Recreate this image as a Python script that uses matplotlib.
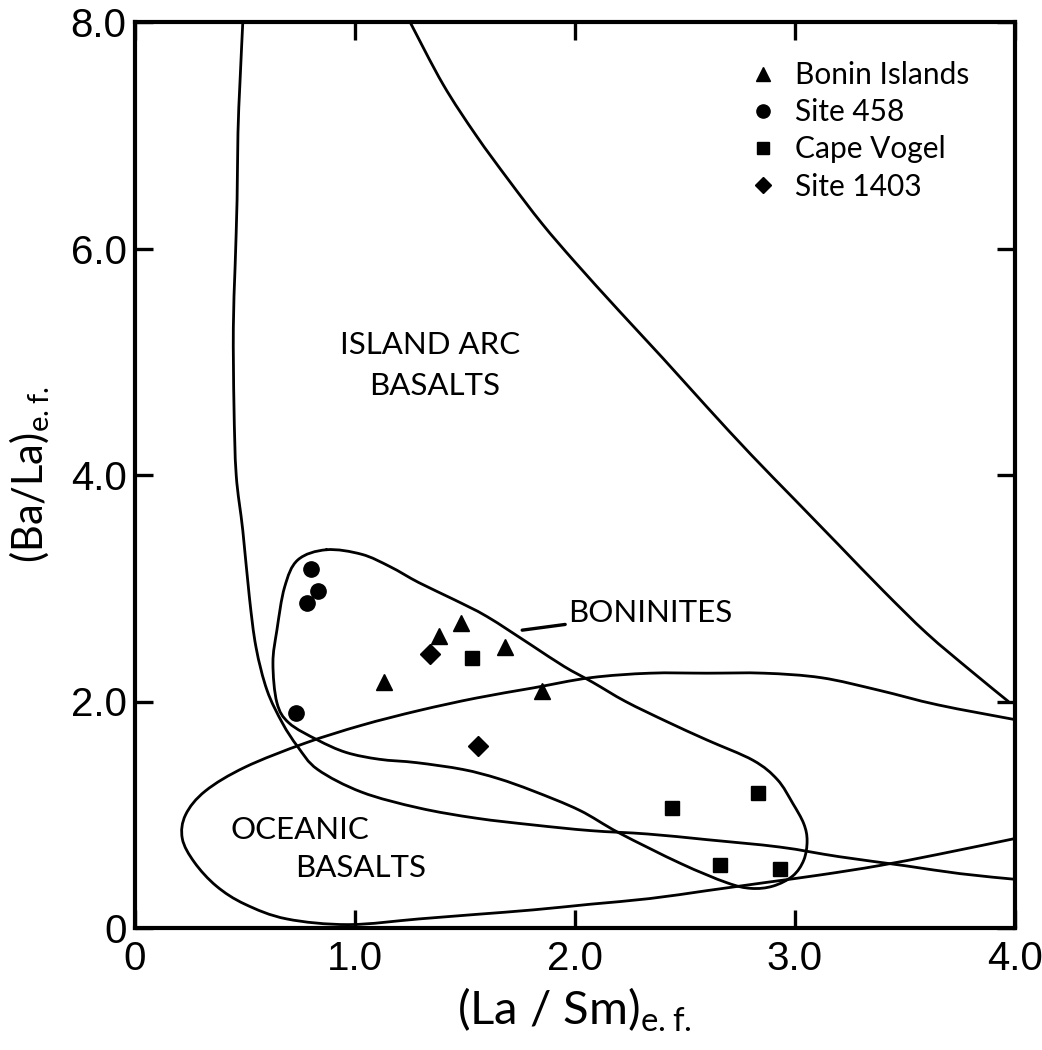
import numpy as np
import matplotlib.pyplot as plt
from matplotlib.lines import Line2D
from matplotlib.path import Path
from matplotlib.patches import PathPatch

# ..............................................................................
plt.rcParams['font.family'] = ['Lato', 'DejaVu Sans']
plt.rcParams['mathtext.fontset'] = 'custom'
plt.rcParams['mathtext.rm'] = 'Lato'

# ==============================================================================
# sample points (La/Sm e.f., Ba/La e.f.)
boninX = [1.13, 1.38, 1.48, 1.68, 1.85]
boninY = [2.17, 2.58, 2.69, 2.48, 2.09]
site458X = [0.80, 0.83, 0.78, 0.73]
site458Y = [3.17, 2.98, 2.87, 1.90]
vogelX = [1.53, 2.44, 2.83, 2.66, 2.93]
vogelY = [2.38, 1.06, 1.19, 0.56, 0.52]
site1403X = [1.34, 1.56]
site1403Y = [2.42, 1.61]

# field boundaries
arcUpperX = [1.25, 1.40, 1.55, 1.70, 1.85, 2.00, 2.20, 2.40, 2.60, 2.80, 3.00, 3.20, 3.40, 3.60, 3.80, 3.97]
arcUpperY = [8.00, 7.45, 7.00, 6.60, 6.22, 5.88, 5.45, 5.03, 4.60, 4.18, 3.78, 3.38, 2.98, 2.60, 2.27, 2.00]

arcLowerX = [0.49, 0.477, 0.468, 0.464, 0.455, 0.447, 0.45, 0.46, 0.49, 0.52, 0.55, 0.60, 0.67, 0.74, 0.83,
             1.03, 1.29, 1.55, 1.81, 2.07, 2.33, 2.60, 2.93, 3.20, 3.50, 3.75, 4.00]
arcLowerY = [8.00, 7.46, 7.02, 6.43, 5.84, 5.30, 4.60, 4.00, 3.51, 2.92, 2.48, 2.10, 1.81, 1.60, 1.40,
             1.20, 1.06, 0.97, 0.91, 0.86, 0.83, 0.78, 0.715, 0.63, 0.55, 0.48, 0.43]

oceanX = [4.00, 3.65, 3.38, 3.12, 2.86, 2.60, 2.34, 2.07, 1.81, 1.55, 1.29, 1.03, 0.77, 0.50, 0.32, 0.23,
          0.215, 0.27, 0.37, 0.50, 0.69, 0.97, 1.29, 1.55, 1.81, 2.07, 2.34, 2.60, 2.86, 3.12, 3.38, 3.65, 4.00]
oceanY = [1.84, 1.97, 2.10, 2.21, 2.25, 2.25, 2.25, 2.21, 2.12, 2.03, 1.92, 1.79, 1.63, 1.42, 1.21, 1.00,
          0.79, 0.58, 0.37, 0.21, 0.08, 0.03, 0.08, 0.12, 0.16, 0.21, 0.26, 0.33, 0.40, 0.47, 0.55, 0.65, 0.79]

boninitesX = [0.87, 1.03, 1.16, 1.29, 1.45, 1.60, 1.80, 1.95, 2.08, 2.23, 2.42, 2.60, 2.81, 2.92, 2.99, 3.04,
              3.055, 3.04, 2.99, 2.90, 2.80, 2.69, 2.48, 2.20, 2.02, 1.81, 1.65, 1.49, 1.28, 1.11, 0.96, 0.83,
              0.70, 0.645, 0.627, 0.645, 0.68, 0.74, 0.87]
boninitesY = [3.34, 3.30, 3.19, 3.05, 2.90, 2.75, 2.50, 2.31, 2.17, 2.00, 1.82, 1.66, 1.48, 1.31, 1.10, 0.92,
              0.77, 0.60, 0.46, 0.37, 0.35, 0.40, 0.57, 0.84, 1.04, 1.21, 1.32, 1.40, 1.46, 1.49, 1.55, 1.66,
              1.81, 1.99, 2.34, 2.63, 3.01, 3.25, 3.34]

xTicks = [0, 1, 2, 3, 4]
xTickLabels = ["0", "1.0", "2.0", "3.0", "4.0"]
yTicks = [0, 2, 4, 6, 8]
yTickLabels = ["0", "2.0", "4.0", "6.0", "8.0"]


# ==============================================================================
def smoothPath(xs, ys, closed=False):
    # catmull-rom through the traced points, drawn as cubic bezier segments
    pts = np.column_stack([xs, ys])
    n = len(pts)
    verts = [pts[0]]
    codes = [Path.MOVETO]
    for i in range(n - 1):
        p0 = pts[i - 1] if i > 0 else (pts[-2] if closed else pts[i])
        p1 = pts[i]
        p2 = pts[i + 1]
        p3 = pts[i + 2] if i + 2 < n else (pts[1] if closed else pts[i + 1])
        verts += [p1 + (p2 - p0) / 6.0, p2 - (p3 - p1) / 6.0, p2]
        codes += [Path.CURVE4] * 3
    return Path(verts, codes)


# ==============================================================================
fig = plt.figure(figsize=(10.42, 10.5), dpi=100)
ax = fig.add_axes([135/1042, 1-928/1050, 880/1042, 906/1050])

for xs, ys, cl in [(arcUpperX, arcUpperY, False), (arcLowerX, arcLowerY, False),
                   (oceanX, oceanY, False), (boninitesX, boninitesY, True)]:
    ax.add_patch(PathPatch(smoothPath(xs, ys, cl), facecolor="none", edgecolor="black",
                           lw=2.0, capstyle="round", joinstyle="round"))

ax.plot(boninX, boninY, ls="none", marker="^", ms=11, color="black", label="Bonin Islands")
ax.plot(site458X, site458Y, ls="none", marker="o", ms=11, color="black", label="Site 458")
ax.plot(vogelX, vogelY, ls="none", marker="s", ms=10, color="black", label="Cape Vogel")
ax.plot(site1403X, site1403Y, ls="none", marker="D", ms=10, color="black", label="Site 1403")

# ..............................................................................
handles = [Line2D([], [], ls="none", marker=m, ms=s, color="black") for m, s in
           [("^", 9.5), ("o", 9.5), ("s", 8.5), ("D", 8.5)]]
ax.legend(handles, ["Bonin Islands", "Site 458", "Cape Vogel", "Site 1403"],
          loc="upper left", bbox_to_anchor=(0.6966, 0.957), frameon=False, fontsize=21.5,
          handlelength=1.0, handletextpad=0.57, labelspacing=0.31, borderpad=0, borderaxespad=0)

# ..............................................................................
fs = 22.5
ax.text(1.34, 5.15, "ISLAND ARC", ha="center", va="center", fontsize=fs)
ax.text(1.36, 4.79, "BASALTS", ha="center", va="center", fontsize=fs)
ax.text(0.432, 0.865, "OCEANIC", ha="left", va="center", fontsize=fs)
ax.text(0.727, 0.53, "BASALTS", ha="left", va="center", fontsize=fs)
ax.annotate("BONINITES", xy=(1.76, 2.63), xytext=(1.968, 2.78), ha="left", va="center", fontsize=fs,
            arrowprops=dict(arrowstyle="-", lw=2.4, color="black", shrinkA=0, shrinkB=0))

# ..............................................................................
ax.set_xlim(0, 4)
ax.set_ylim(0, 8)
ax.set_xticks(xTicks)
ax.set_xticklabels(xTickLabels, fontfamily="Liberation Sans", fontsize=29)
ax.set_yticks(yTicks)
ax.set_yticklabels(yTickLabels, fontfamily="Liberation Sans", fontsize=29)
ax.tick_params(direction="in", length=13, width=2.4, top=True, right=True, pad=6)
ax.tick_params(axis="x", pad=9)
for sp in ax.spines.values():
    sp.set_linewidth(3)

ax.set_xlabel(r"(La / Sm)$_{\mathrm{e{.}f{.}}}$", fontsize=34)
ax.set_ylabel(r"(Ba/La)$_{\mathrm{e{.}f{.}}}$", fontsize=30)
ax.xaxis.set_label_coords(0.499, -0.063)
ax.yaxis.set_label_coords(-0.094, 0.50)

fig.savefig("out.png", dpi=100)
